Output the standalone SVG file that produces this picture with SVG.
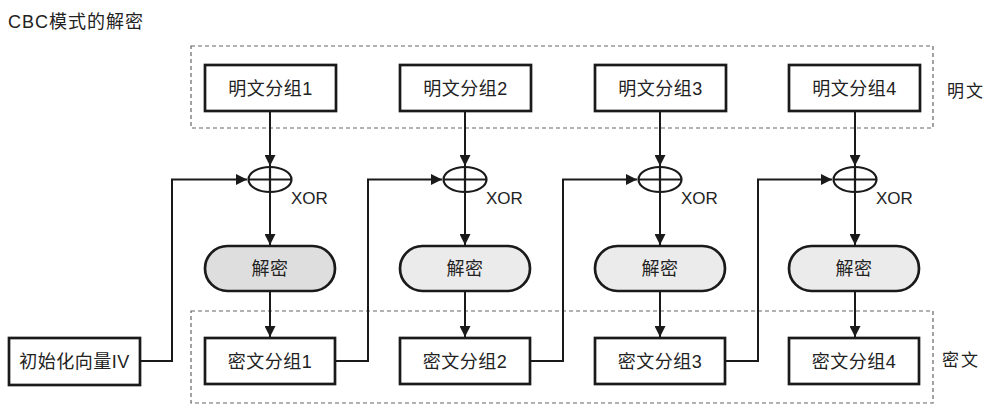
<svg xmlns="http://www.w3.org/2000/svg" width="989" height="419" viewBox="0 0 989 419">
<style>
text{font-family:"Liberation Sans","Noto Sans CJK SC",sans-serif;fill:#222}
.box{fill:#fff;stroke:#1a1a1a;stroke-width:2.7}
.pill{fill:#ebebeb;stroke:#1a1a1a;stroke-width:2.7}
.grp{fill:none;stroke:#666;stroke-width:1.2;stroke-dasharray:4 3}
.ln{fill:none;stroke:#1a1a1a;stroke-width:2}
.xor{fill:none;stroke:#1a1a1a;stroke-width:2.2}
.t{font-size:18px;text-anchor:middle;letter-spacing:0.5px}
.x{font-size:17px}
</style>
<defs>
<marker id="ah" viewBox="0 0 10 10" refX="10" refY="5" markerWidth="11" markerHeight="11" markerUnits="userSpaceOnUse" orient="auto">
<path d="M0,0 L10,5 L0,10 Z" fill="#1a1a1a"/>
</marker>
</defs>
<rect width="989" height="419" fill="#fff"/>
<text x="8" y="28" font-size="18" letter-spacing="1">CBC模式的解密</text>

<g id="group-plain">
<rect class="grp" x="191" y="46" width="742" height="82"/>
<text x="947" y="97" font-size="17" letter-spacing="2">明文</text>
</g>
<g id="group-cipher">
<rect class="grp" x="191" y="311" width="742" height="92"/>
<text x="942" y="366" font-size="17" letter-spacing="2">密文</text>
</g>

<g id="connectors">
<path class="ln" d="M270,111 V166" marker-end="url(#ah)"/>
<path class="ln" d="M465,111 V166" marker-end="url(#ah)"/>
<path class="ln" d="M660,111 V166" marker-end="url(#ah)"/>
<path class="ln" d="M855,111 V166" marker-end="url(#ah)"/>
<path class="ln" d="M270,192 V245" marker-end="url(#ah)"/>
<path class="ln" d="M465,192 V245" marker-end="url(#ah)"/>
<path class="ln" d="M660,192 V245" marker-end="url(#ah)"/>
<path class="ln" d="M855,192 V245" marker-end="url(#ah)"/>
<path class="ln" d="M270,291 V337" marker-end="url(#ah)"/>
<path class="ln" d="M465,291 V337" marker-end="url(#ah)"/>
<path class="ln" d="M660,291 V337" marker-end="url(#ah)"/>
<path class="ln" d="M855,291 V337" marker-end="url(#ah)"/>
<path class="ln" d="M140,361 H172 V179.5 H247" marker-end="url(#ah)"/>
<path class="ln" d="M335,361 H368 V179.5 H442" marker-end="url(#ah)"/>
<path class="ln" d="M530,361 H563 V179.5 H637" marker-end="url(#ah)"/>
<path class="ln" d="M725,361 H758 V179.5 H832" marker-end="url(#ah)"/>
</g>

<g id="plain1"><rect class="box" x="205" y="65" width="131" height="46"/><text class="t" x="270.5" y="95">明文分组1</text></g>
<g id="plain2"><rect class="box" x="400" y="65" width="131" height="46"/><text class="t" x="465.5" y="95">明文分组2</text></g>
<g id="plain3"><rect class="box" x="595" y="65" width="131" height="46"/><text class="t" x="660.5" y="95">明文分组3</text></g>
<g id="plain4"><rect class="box" x="789" y="65" width="131" height="46"/><text class="t" x="854.5" y="95">明文分组4</text></g>

<g id="xor1"><ellipse class="xor" cx="270" cy="179.5" rx="21.5" ry="12.5"/><path class="xor" d="M248.5,179.5 H291.5 M270,167 V192"/><text class="x" x="291" y="204">XOR</text></g>
<g id="xor2"><ellipse class="xor" cx="465" cy="179.5" rx="21.5" ry="12.5"/><path class="xor" d="M443.5,179.5 H486.5 M465,167 V192"/><text class="x" x="486" y="204">XOR</text></g>
<g id="xor3"><ellipse class="xor" cx="660" cy="179.5" rx="21.5" ry="12.5"/><path class="xor" d="M638.5,179.5 H681.5 M660,167 V192"/><text class="x" x="681" y="204">XOR</text></g>
<g id="xor4"><ellipse class="xor" cx="855" cy="179.5" rx="21.5" ry="12.5"/><path class="xor" d="M833.5,179.5 H876.5 M855,167 V192"/><text class="x" x="876" y="204">XOR</text></g>

<g id="dec1"><rect class="pill" x="205" y="246" width="130" height="45" rx="22.5" style="fill:#dedede"/><text class="t" x="270" y="275">解密</text></g>
<g id="dec2"><rect class="pill" x="400" y="246" width="130" height="45" rx="22.5"/><text class="t" x="465" y="275">解密</text></g>
<g id="dec3"><rect class="pill" x="595" y="246" width="130" height="45" rx="22.5"/><text class="t" x="660" y="275">解密</text></g>
<g id="dec4"><rect class="pill" x="789" y="246" width="130" height="45" rx="22.5"/><text class="t" x="854" y="275">解密</text></g>

<g id="iv"><rect class="box" x="9" y="338" width="131" height="47"/><text class="t" x="74.5" y="368" letter-spacing="1">初始化向量IV</text></g>
<g id="cipher1"><rect class="box" x="205" y="338" width="130" height="46"/><text class="t" x="270" y="368">密文分组1</text></g>
<g id="cipher2"><rect class="box" x="400" y="338" width="130" height="46"/><text class="t" x="465" y="368">密文分组2</text></g>
<g id="cipher3"><rect class="box" x="595" y="338" width="130" height="46"/><text class="t" x="660" y="368">密文分组3</text></g>
<g id="cipher4"><rect class="box" x="789" y="338" width="130" height="46"/><text class="t" x="854" y="368">密文分组4</text></g>
</svg>
